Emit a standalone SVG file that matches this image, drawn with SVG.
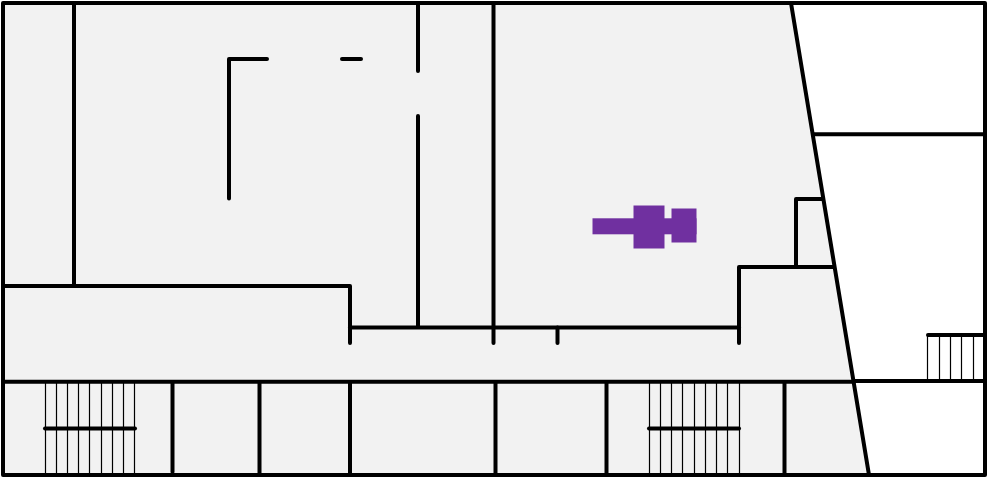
<svg xmlns="http://www.w3.org/2000/svg" width="987" height="478" viewBox="0 0 987 478">
<style>
.w{fill:none;stroke:#000;stroke-width:4;stroke-linecap:round;stroke-linejoin:round}
.s{fill:none;stroke:#000;stroke-width:1.2}
.p{fill:#7030a0}
</style>
<rect width="987" height="478" fill="#fff"/>
<polygon points="3,3 791,3 869,475 3,475" fill="#f2f2f2"/>
<g id="stairs">
<path class="s" d="M45.500 382V475M56.500 382V475M67.500 382V475M78.500 382V475M89.500 382V475M101.500 382V475M112.500 382V475M123.500 382V475M134.500 382V475"/>
<path class="s" d="M649.500 382V475M660.500 382V475M671.500 382V475M682.500 382V475M694.500 382V475M705.500 382V475M716.500 382V475M727.500 382V475M739.500 382V475"/>
<path class="s" d="M927.500 335V381M939.500 335V381M950.500 335V381M961.500 335V381M973.500 335V381"/>
</g>
<g id="walls">
<path class="w" d="M3 3H985V475H3Z"/>
<path class="w" d="M791 3L869 475"/>
<path class="w" d="M3 381.700H854"/>
<path class="w" d="M854 381H985"/>
<path class="w" d="M814 134.300H985"/>
<path class="w" d="M74 3V286"/>
<path class="w" d="M3 286H350V343"/>
<path class="w" d="M229 198.500V59H267"/>
<path class="w" d="M342 59H361"/>
<path class="w" d="M418 3V71"/>
<path class="w" d="M418 116V327"/>
<path class="w" d="M493.500 3V343"/>
<path class="w" d="M350 327.500H739"/>
<path class="w" d="M557.500 327.500V343"/>
<path class="w" d="M739 343V267H834"/>
<path class="w" d="M796 267V199H822"/>
<path class="w" d="M172.500 382V472"/>
<path class="w" d="M259.500 382V473"/>
<path class="w" d="M350 382V473"/>
<path class="w" d="M495.500 382V473"/>
<path class="w" d="M606.500 382V473"/>
<path class="w" d="M784.500 382V473"/>
<path class="w" d="M45 428.500H135"/>
<path class="w" d="M649 428.500H739"/>
<path class="w" d="M928 335H985"/>
</g>
<g id="marker">
<rect class="p" x="592.500" y="218.300" width="104" height="16"/>
<rect class="p" x="633.500" y="205.500" width="31" height="43"/>
<rect class="p" x="671.500" y="208.500" width="25" height="34"/>
</g>
</svg>
